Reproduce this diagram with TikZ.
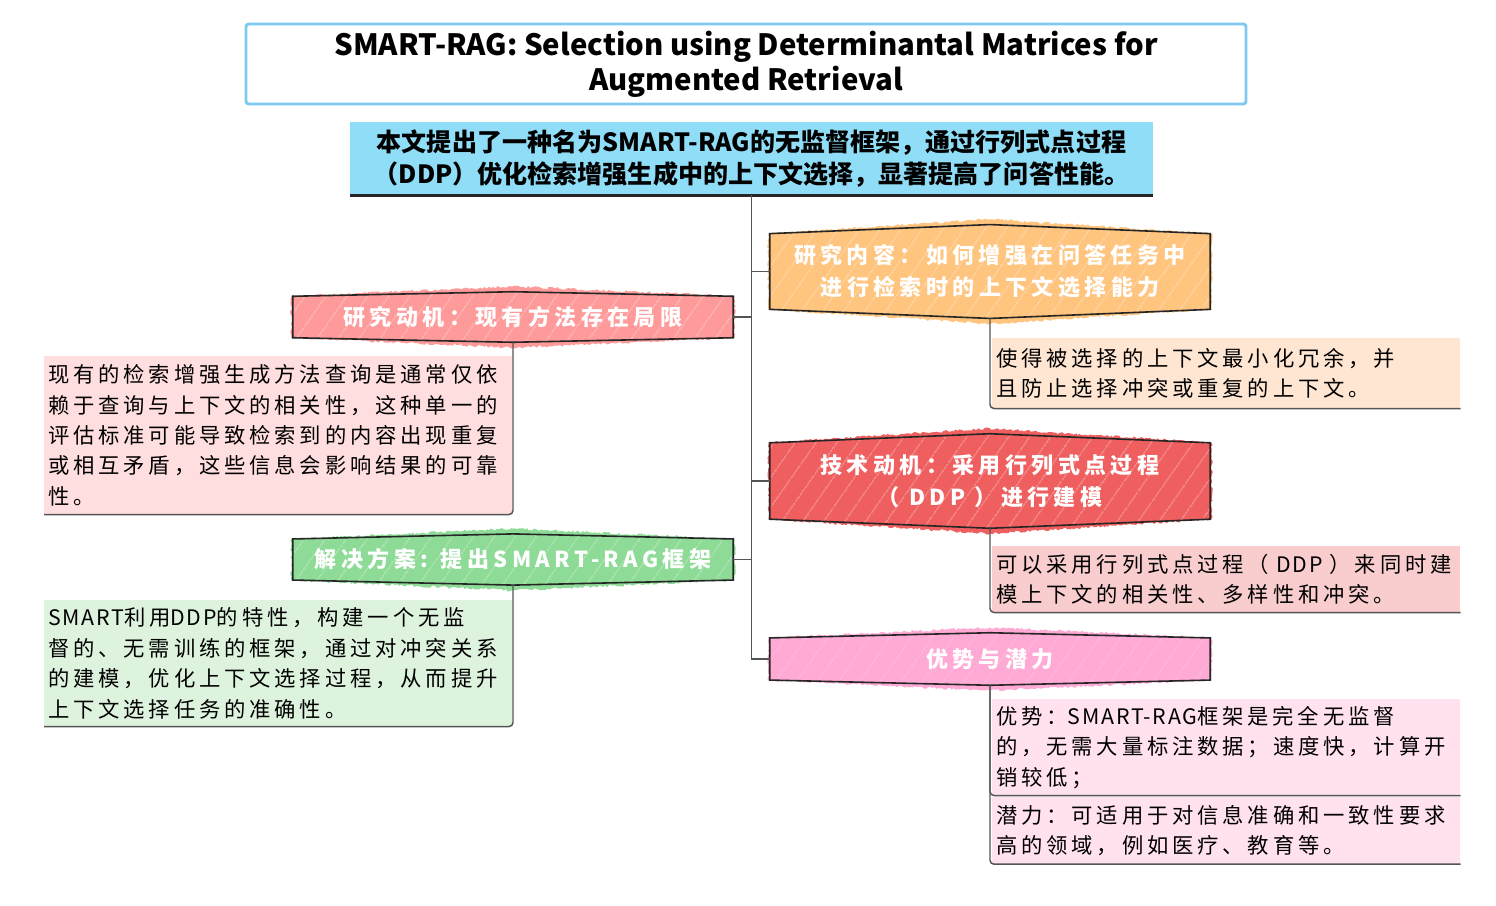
\documentclass[tikz,border=0pt]{standalone}
\usepackage{fontspec}
\setmainfont{Noto Sans CJK SC}
\newfontfamily\plainfont[LetterSpace=8]{Noto Sans CJK SC}
\newfontfamily\topicfont[LetterSpace=20]{Noto Sans CJK SC}
\newfontfamily\descfont[LetterSpace=18]{Noto Sans CJK SC}
\newcommand{\lat}[1]{{\plainfont #1}}
\usetikzlibrary{calc, backgrounds, decorations.pathmorphing, patterns.meta}

\definecolor{titleblue}{HTML}{7CCAF0}
\definecolor{sumblue}{HTML}{8FDDF7}
\definecolor{motivpink}{HTML}{FF9A9A}
\definecolor{contpeach}{HTML}{FFC47E}
\definecolor{techred}{HTML}{EF5F5F}
\definecolor{solgreen}{HTML}{8DDB96}
\definecolor{advrose}{HTML}{FFAAD5}
\definecolor{motivlight}{HTML}{FFDEE0}
\definecolor{contlight}{HTML}{FFE6D3}
\definecolor{techlight}{HTML}{F9CDCE}
\definecolor{sollight}{HTML}{DEF3DE}
\definecolor{advlight}{HTML}{FFE1EF}
\definecolor{linegray}{HTML}{555555}

\begin{document}
\begin{tikzpicture}[
        x=0.75pt, y=-0.75pt,
        titlebox/.style={draw=titleblue, line width=2.2pt, rounded corners=2pt, fill=white, minimum width=750pt, minimum height=60pt, align=center, font=\fontsize{22}{26.5}\selectfont\bfseries},
        summary/.style={fill=sumblue, minimum width=602pt, minimum height=54.75pt, align=center, font=\fontsize{18.8}{23.5}\selectfont\bfseries},
        topic/.style={minimum width=330pt, align=center, text=white, font=\topicfont\fontsize{16.5}{24}\selectfont\bfseries},
        desc/.style={anchor=north west, minimum width=351pt, text width=345pt, inner xsep=3pt, align=left, font=\descfont\fontsize{16}{22.8}\selectfont},
        conn/.style={draw=linegray, line width=1.1pt}
    ]
        \useasboundingbox (0,0) rectangle (1496,906);

        \node[titlebox] (title) at (746,64) {SMART-RAG: Selection using Determinantal Matrices for\\Augmented Retrieval};
        \node[summary] (sum) at (751.5,158.5) {本文提出了一种名为SMART-RAG的无监督框架，通过行列式点过程\\（DDP）优化检索增强生成中的上下文选择，显著提高了问答性能。};
        \draw[line width=2.2pt, black!85] (sum.south west) -- (sum.south east);

        % topics
        \node[topic, minimum height=37.5pt] (mot) at (513,317) {研究动机：现有方法存在局限};
        \node[topic, minimum height=70pt] (cont) at (990,271.5) {研究内容：如何增强在问答任务中\\进行检索时的上下文选择能力};
        \node[topic, minimum height=70.5pt] (tech) at (990,481) {技术动机：采用行列式点过程\\（~DDP~）进行建模};
        \node[topic, minimum height=38pt] (sol) at (513,559.5) {解决方案: 提出SMART-RAG框架};
        \node[topic, minimum height=39pt] (adv) at (990,659) {优势与潜力};

        % details
        \node[desc, fill=motivlight, minimum height=118.5pt] (motd) at (44,356) {现有的检索增强生成方法查询是通常仅依\\赖于查询与上下文的相关性，这种单一的\\评估标准可能导致检索到的内容出现重复\\或相互矛盾，这些信息会影响结果的可靠\\性。};
        \node[desc, fill=contlight, minimum height=52.5pt] (contd) at (992,338) {使得被选择的上下文最小化冗余，并\\且防止选择冲突或重复的上下文。};
        \node[desc, fill=techlight, minimum height=49.5pt] (techd) at (992,546) {可以采用行列式点过程（\lat{~DDP~}）来同时建\\模上下文的相关性、多样性和冲突。};
        \node[desc, fill=sollight, minimum height=94.5pt] (sold) at (44,600) {\lat{SMART}利用\lat{DDP}的特性，构建一个无监\\督的、无需训练的框架，通过对冲突关系\\的建模，优化上下文选择过程，从而提升\\上下文选择任务的准确性。};
        \node[desc, fill=advlight, minimum height=72pt] (advd) at (992,699) {优势：\lat{SMART-RAG}框架是完全无监督\\的，无需大量标注数据；速度快，计算开\\销较低；};
        \node[desc, fill=advlight, minimum height=50pt] (potd) at (992,797) {潜力：可适用于对信息准确和一致性要求\\高的领域，例如医疗、教育等。};

        \begin{scope}[on background layer]
            \foreach \n/\c/\p in {mot/motivpink/3.4pt, cont/contpeach/6.8pt, tech/techred/6.8pt, sol/solgreen/3.8pt, adv/advrose/3.9pt} {
                \fill[\c, decorate, decoration={random steps, segment length=1.5pt, amplitude=0.9pt}]
                    ($(\n.north west)+(-1pt,-\p)$) -- ($(\n.north)+(0pt,4pt)$) -- ($(\n.north east)+(1pt,-\p)$)
                    -- ($(\n.south east)+(1pt,\p)$) -- ($(\n.south)+(0pt,-4pt)$) -- ($(\n.south west)+(-1pt,\p)$) -- cycle;
                \draw[line width=1.2pt, draw=black!85, pattern={Lines[angle=55, distance=13pt, line width=0.3pt]}, pattern color=white!90!\c]
                    ($(\n.north west)+(0pt,-\p)$) -- (\n.north) -- ($(\n.north east)+(0pt,-\p)$)
                    -- ($(\n.south east)+(0pt,\p)$) -- (\n.south) -- ($(\n.south west)+(0pt,\p)$) -- cycle;
            }
        \end{scope}

        \draw[conn] (sum.south) |- (adv.west);
        \draw[conn] (mot.east) -- (mot.east -| sum.south);
        \draw[conn] (cont.west) -- (cont.west -| sum.south);
        \draw[conn] (tech.west) -- (tech.west -| sum.south);
        \draw[conn] (sol.east) -- (sol.east -| sum.south);

        \draw[conn, rounded corners=3pt] (mot.south) |- (motd.south west);
        \draw[conn, rounded corners=3pt] (sol.south) |- (sold.south west);
        \draw[conn, rounded corners=3pt] (cont.south) |- (contd.south east);
        \draw[conn, rounded corners=3pt] (tech.south) |- (techd.south east);
        \draw[conn, rounded corners=3pt] (adv.south) |- (advd.south east);
        \draw[conn, rounded corners=3pt] (adv.south) |- (potd.south east);
    \end{tikzpicture}
\end{document}
